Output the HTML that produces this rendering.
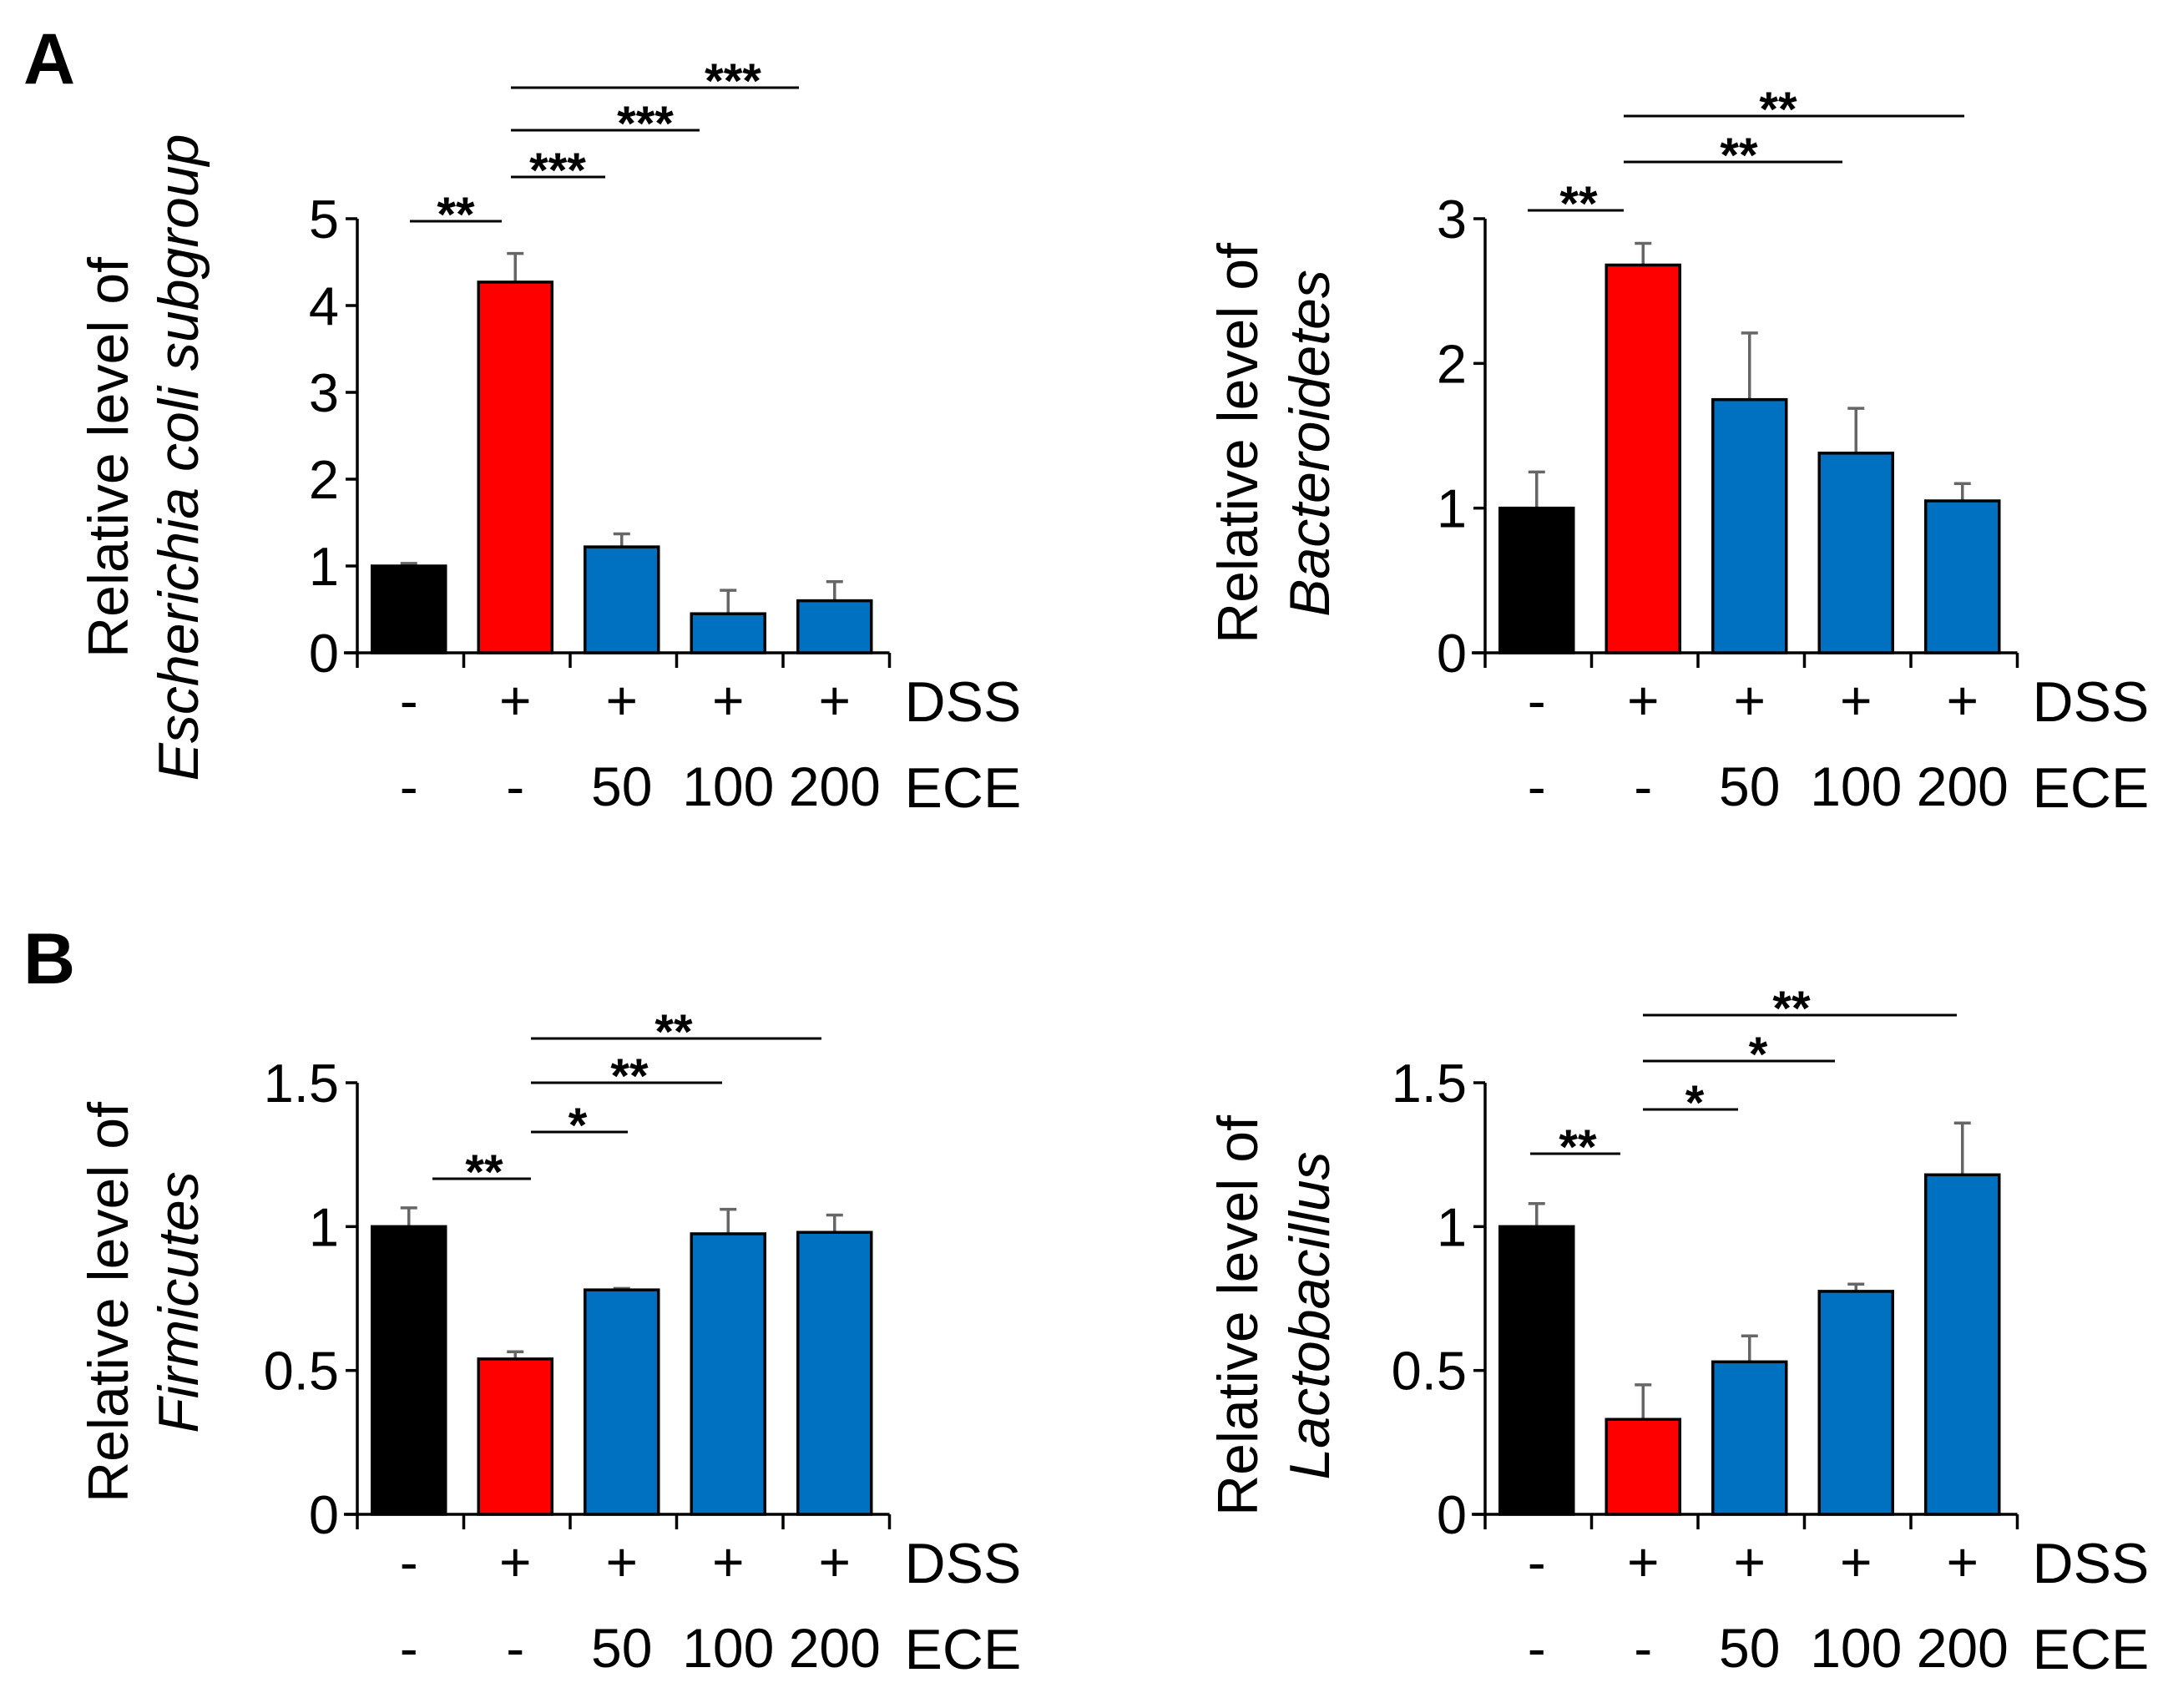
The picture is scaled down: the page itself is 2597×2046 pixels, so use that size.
<!DOCTYPE html>
<html><head><meta charset="utf-8"><style>
body{margin:0;background:#fff}
svg{display:block;font-family:"Liberation Sans",Arial,sans-serif}
</style></head><body>
<svg id="fig" width="2597" height="2046" viewBox="0 0 2597 2046" xmlns="http://www.w3.org/2000/svg">
<rect width="2597" height="2046" fill="#fff"/>
<text x="28" y="100" font-size="86" font-weight="bold">A</text>
<text x="28" y="1178" font-size="86" font-weight="bold">B</text>
</svg>
<script>
const dssLabels = ["-","+","+","+","+"];
const eceLabels = ["-","-","50","100","200"];
const barColors = ["#000000","#ff0000","#0070c0","#0070c0","#0070c0"];

const ecoliValues = [1.0, 4.27, 1.22, 0.45, 0.60];
const ecoliErrors = [0.03, 0.33, 0.15, 0.27, 0.22];
const ecoliTicks = ["0","1","2","3","4","5"];

const bactValues = [1.0, 2.68, 1.75, 1.38, 1.05];
const bactErrors = [0.25, 0.15, 0.46, 0.31, 0.12];
const bactTicks = ["0","1","2","3"];

const firmValues = [1.0, 0.54, 0.78, 0.975, 0.98];
const firmErrors = [0.065, 0.025, 0.005, 0.085, 0.06];
const firmTicks = ["0","0.5","1","1.5"];

const lactoValues = [1.0, 0.33, 0.53, 0.775, 1.18];
const lactoErrors = [0.08, 0.12, 0.09, 0.025, 0.18];
const lactoTicks = ["0","0.5","1","1.5"];

// significance annotations: [x1, x2, y, label, textX]
const ecoliSig = [[491,601,265,"**",546],[612,725,212,"***",668],[612,838,156,"***",773],[612,957,105,"***",878]];
const bactSig = [[1830,1945,252,"**",1891],[1945,2207,194,"**",2083],[1945,2353,139,"**",2130]];
const firmSig = [[518,636,1412,"**",580],[636,752,1356,"*",692],[636,865,1297,"**",754],[636,984,1244,"**",807]];
const lactoSig = [[1833,1941,1382,"**",1890],[1968,2082,1329,"*",2030],[1968,2198,1271,"*",2106],[1968,2344,1216,"**",2146]];

const NS = "http://www.w3.org/2000/svg";
const svg = document.getElementById("fig");
function mk(tag, attrs, parent){const e=document.createElementNS(NS,tag);for(const k in attrs)e.setAttribute(k,attrs[k]);(parent||svg).appendChild(e);return e;}

function panel(name, ax, y0, yTop, maxV, values, errors, ticks, sig, label1, label2, labCx, labCy){
  const g = mk("g",{});
  
  
  const catW = 127.5;
  const axR = ax + catW*5;
  const yS = v => y0 - (v/maxV)*(y0-yTop);
  const xC = i => ax + catW*(i+0.5);
  const ya = mk("line",{x1:ax,y1:yTop,x2:ax,y2:y0,stroke:"#000","stroke-width":3.5},g);
  
  
  const xa = mk("line",{x1:ax-16,y1:y0,x2:axR,y2:y0,stroke:"#000","stroke-width":3.5},g);
  
  
  ticks.forEach(t=>{
    const v=parseFloat(t), y=yS(v);
    mk("line",{x1:ax-14,y1:y,x2:ax,y2:y,stroke:"#000","stroke-width":3.5},g);
    const tx=mk("text",{x:ax-22,y:y+23,"font-size":65,"text-anchor":"end"},g);
    tx.textContent=t;
    
    
  });
  for(let i=0;i<=5;i++) mk("line",{x1:ax+catW*i,y1:y0,x2:ax+catW*i,y2:y0+18,stroke:"#000","stroke-width":3.5},g);
  const bw=88;
  values.forEach((v,i)=>{
    const cx=xC(i)-2, top=yS(v), et=yS(v+errors[i]);
    const el=mk("line",{x1:cx,y1:top,x2:cx,y2:et,stroke:"#666","stroke-width":3.5},g);
    
    
    mk("line",{x1:cx-10,y1:et,x2:cx+10,y2:et,stroke:"#666","stroke-width":3.5},g);
    const r=mk("rect",{x:cx-bw/2,y:top,width:bw,height:y0-top,fill:barColors[i],stroke:"#000","stroke-width":3.5},g);
    
    
    const d=mk("text",{x:cx,y:y0+80,"font-size":66,"text-anchor":"middle"},g);
    d.textContent=dssLabels[i];
    
    
    const e=mk("text",{x:cx,y:y0+183,"font-size":66,"text-anchor":"middle"},g);
    e.textContent=eceLabels[i];
    
    
  });
  const dss=mk("text",{x:axR+18,y:y0+82,"font-size":68},g);
  dss.textContent="DSS";
  
  
  const ece=mk("text",{x:axR+18,y:y0+185,"font-size":68},g);
  ece.textContent="ECE";
  
  
  sig.forEach(s=>{
    const l=mk("line",{x1:s[0],y1:s[2],x2:s[1],y2:s[2],stroke:"#000","stroke-width":3},g);
    
    
    const t=mk("text",{x:s[4],y:s[2]+12,"font-size":58,"font-weight":"bold","text-anchor":"middle"},g);
    t.textContent=s[3];
    
    
  });
  const t1=mk("text",{x:0,y:0,"font-size":68,"text-anchor":"middle",transform:`translate(${labCx[0]},${labCy}) rotate(-90)`},g);
  t1.textContent=label1;
  
  
  const t2=mk("text",{x:0,y:0,"font-size":68,"font-style":"italic","text-anchor":"middle",transform:`translate(${labCx[1]},${labCy}) rotate(-90)`},g);
  t2.textContent=label2;
  
  
}
panel("ecoli",428,782,262,5,ecoliValues,ecoliErrors,ecoliTicks,ecoliSig,"Relative level of","Escherichia coli subgroup",[153,237],548);
panel("bacteroidetes",1779,782,262,3,bactValues,bactErrors,bactTicks,bactSig,"Relative level of","Bacteroidetes",[1506,1592],531);
panel("firmicutes",428,1814,1297,1.5,firmValues,firmErrors,firmTicks,firmSig,"Relative level of","Firmicutes",[153,237],1560);
panel("lactobacillus",1779,1814,1297,1.5,lactoValues,lactoErrors,lactoTicks,lactoSig,"Relative level of","Lactobacillus",[1506,1592],1576);
</script>
</body></html>
